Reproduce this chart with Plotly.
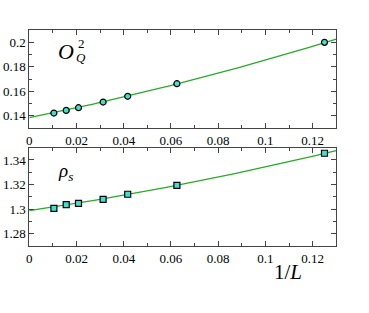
import numpy as np
import plotly.graph_objects as go

# data
inv_L = [1/96, 1/64, 1/48, 1/32, 1/24, 1/16, 1/8]
oq2 = [0.1422, 0.1444, 0.1466, 0.1512, 0.1559, 0.1662, 0.2000]
rho_s = [1.3007, 1.3036, 1.3047, 1.3080, 1.3121, 1.3194, 1.3455]
# quadratic fit coefficients (a, b, c)
fit_oq2 = [0.1384, 0.3925, 0.785]
fit_rho = [1.2987, 0.2896, 0.666]
x_ticks = [0, 0.02, 0.04, 0.06, 0.08, 0.1, 0.12]
x_tick_text = ["0", "0.02", "0.04", "0.06", "0.08", "0.1", "0.12"]
y1_ticks = [0.14, 0.16, 0.18, 0.2]
y1_text = ["0.14", "0.16", "0.18", "0.2"]
y2_ticks = [1.28, 1.3, 1.32, 1.34]
y2_text = ["1.28", "1.3", "1.32", "1.34"]

xf = np.linspace(0, 0.13, 200)
def quad(c):
    return c[0] + c[1]*xf + c[2]*xf**2

GREEN = "rgb(40,170,40)"
FILL = "rgb(64,224,208)"
FONT = "Liberation Serif"

W, H = 369, 313
def px(x):
    return x / W
def py(y):
    return 1 - y / H

fig = go.Figure()
fig.add_trace(go.Scatter(x=xf, y=quad(fit_oq2), mode="lines", line=dict(color=GREEN, width=1.3),
                         xaxis="x", yaxis="y", showlegend=False))
fig.add_trace(go.Scatter(x=inv_L, y=oq2, mode="markers",
                         marker=dict(symbol="circle", size=6, color=FILL, line=dict(color="black", width=1.2)),
                         error_x=dict(type="constant", value=0.0013, color="black", thickness=1.5, width=0),
                         xaxis="x", yaxis="y", showlegend=False))
fig.add_trace(go.Scatter(x=xf, y=quad(fit_rho), mode="lines", line=dict(color=GREEN, width=1.3),
                         xaxis="x2", yaxis="y2", showlegend=False))
fig.add_trace(go.Scatter(x=inv_L, y=rho_s, mode="markers",
                         marker=dict(symbol="square", size=6, color=FILL, line=dict(color="black", width=1.2)),
                         xaxis="x2", yaxis="y2", showlegend=False))

axcommon = dict(showline=True, linecolor="#444", linewidth=1, mirror="ticks", ticks="inside",
                ticklen=5, tickcolor="#444", showgrid=False, zeroline=False, automargin=False,
                tickfont=dict(family=FONT, size=13, color="black"))
xd = [px(29.3), px(336.3)]
fig.update_layout(
    width=W, height=H, margin=dict(l=0, r=0, t=0, b=0, autoexpand=False),
    paper_bgcolor="white", plot_bgcolor="white",
    xaxis=dict(domain=xd, range=[0, 0.13], tickvals=x_ticks, ticktext=x_tick_text,
               anchor="y", **axcommon),
    yaxis=dict(domain=[py(128), py(29.5)], range=[0.13, 0.2105], tickvals=y1_ticks, ticktext=y1_text,
               anchor="x", **axcommon),
    xaxis2=dict(domain=xd, range=[0, 0.13], tickvals=x_ticks, ticktext=x_tick_text,
                anchor="y2", **axcommon),
    yaxis2=dict(domain=[py(246), py(147.7)], range=[1.27, 1.35], tickvals=y2_ticks, ticktext=y2_text,
                anchor="x2", **axcommon),
)
fig.update_xaxes(minor=dict(ticks="inside", ticklen=3, tickcolor="#444", showgrid=False, tick0=0, dtick=0.01))
fig.update_yaxes(minor=dict(ticks="inside", ticklen=3, tickcolor="#444", showgrid=False, tick0=0, dtick=0.01))

def label(x, y, text, size):
    return dict(x=px(x), y=py(y), xref="paper", yref="paper", text=text, showarrow=False,
                xanchor="center", yanchor="middle", font=dict(family=FONT, size=size, color="black"))

ann = [
    label(66, 51, "<i>O</i>", 22),
    label(81, 43, "2", 13),
    label(81, 58, "<i>Q</i>", 13),
    label(65, 172, "<i>ρ</i><sub><i>s</i></sub>", 19),
    label(288, 272, "1/<i>L</i>", 21),
]
fig.update_layout(annotations=ann)
fig.write_html("out.html", config={"displayModeBar": False},
               post_script="document.body.style.margin='0';document.body.style.padding='0';")
